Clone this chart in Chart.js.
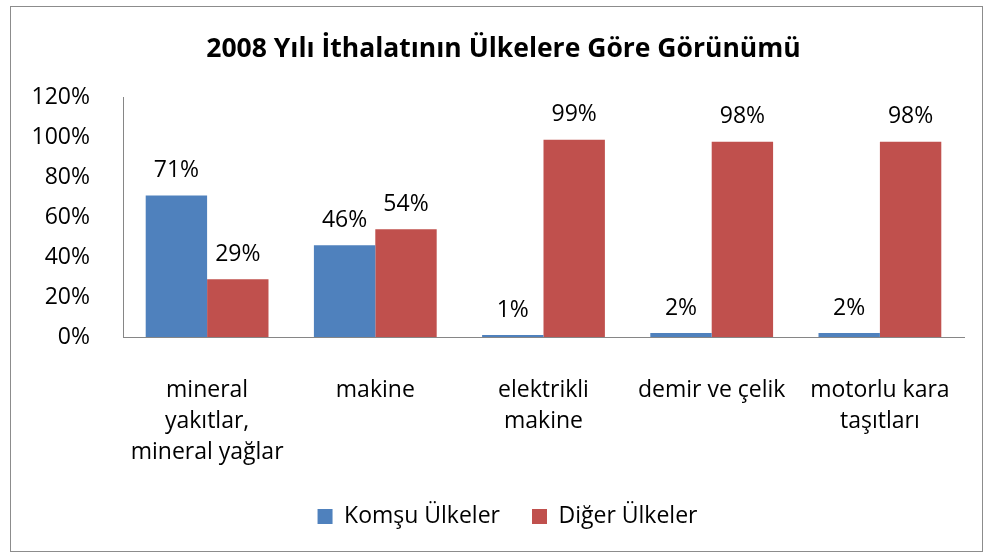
<!DOCTYPE html>
<html lang="tr">
<head>
<meta charset="utf-8">
<script src="https://cdn.jsdelivr.net/npm/chart.js@4.4.0/dist/chart.umd.min.js"></script>
<style>
  html, body { margin: 0; padding: 0; background: #fff; }
  #box {
    position: absolute; left: 10px; top: 6px;
    width: 971px; height: 544px;
    border: 1px solid #8c8c8c;
  }
</style>
</head>
<body>
<div id="box"><canvas id="chart" width="971" height="544"></canvas></div>
<script>
'use strict';

// 데이터
const categories = [
  ['mineral', 'yakıtlar,', 'mineral yağlar'],
  ['makine'],
  ['elektrikli', 'makine'],
  ['demir ve çelik'],
  ['motorlu kara', 'taşıtları'],
];
const komsuUlkeler = [71, 46, 1, 2, 2];
const digerUlkeler = [29, 54, 99, 98, 98];
const yTicks = [0, 20, 40, 60, 80, 100, 120];

const FONT = "'Open Sans', 'Noto Sans', sans-serif";
Chart.defaults.font.family = FONT;
Chart.defaults.color = '#000';

// 막대 위 값 라벨
const valueLabels = {
  id: 'valueLabels',
  afterDatasetsDraw(chart) {
    const { ctx } = chart;
    ctx.save();
    ctx.font = `23px ${FONT}`;
    ctx.fillStyle = '#000';
    ctx.textAlign = 'center';
    ctx.textBaseline = 'middle';
    chart.data.datasets.forEach((ds, i) => {
      chart.getDatasetMeta(i).data.forEach((bar, j) => {
        ctx.fillText(ds.data[j] + '%', bar.x, bar.y - 25);
      });
    });
    ctx.restore();
  }
};

// 제목/범례 가로 위치 보정
const shiftBoxes = {
  id: 'shiftBoxes',
  afterUpdate(chart) {
    const lg = chart.legend;
    if (lg) {
      lg.left += 14; lg.right += 14;
      lg.adjustHitBoxes();
    }
    const tb = chart.titleBlock;
    if (tb) { tb.left += 10; tb.right += 10; }
  }
};

new Chart(document.getElementById('chart'), {
  type: 'bar',
  plugins: [valueLabels, shiftBoxes],
  data: {
    labels: categories,
    datasets: [
      {
        label: 'Komşu Ülkeler',
        data: komsuUlkeler,
        backgroundColor: '#4f81bd',
        borderWidth: 0,
        categoryPercentage: 0.73,
        barPercentage: 1,
      },
      {
        label: 'Diğer Ülkeler',
        data: digerUlkeler,
        backgroundColor: '#c0504d',
        borderWidth: 0,
        categoryPercentage: 0.73,
        barPercentage: 1,
      },
    ],
  },
  options: {
    responsive: false,
    animation: false,
    layout: { padding: { left: 12, right: 18, top: 0, bottom: 13 } },
    plugins: {
      title: {
        display: true,
        text: '2008 Yılı İthalatının Ülkelere Göre Görünümü',
        color: '#000',
        font: { size: 26.5, weight: 'bold', lineHeight: 1.2 },
        padding: { top: 27, bottom: 32 },
      },
      legend: {
        position: 'bottom',
        labels: {
          font: { size: 23 },
          color: '#000',
          boxWidth: 15,
          boxHeight: 15,
          padding: 32,
        },
      },
      tooltip: { enabled: false },
    },
    scales: {
      x: {
        grid: { display: false },
        border: { display: true, color: '#868686', width: 1 },
        ticks: {
          font: { size: 23, lineHeight: 1.35 },
          color: '#000',
          padding: 30,
          maxRotation: 0,
          autoSkip: false,
        },
        afterFit(scale) { scale.height = 136; },
      },
      y: {
        min: 0,
        max: 120,
        grid: { display: false },
        border: { display: true, color: '#868686', width: 1 },
        afterBuildTicks(scale) { scale.ticks = yTicks.map(v => ({ value: v })); },
        ticks: {
          font: { size: 23 },
          color: '#000',
          padding: 25,
          callback: v => v + '%',
        },
        afterFit(scale) { scale.width = 100; },
      },
    },
  },
});
</script>
</body>
</html>
